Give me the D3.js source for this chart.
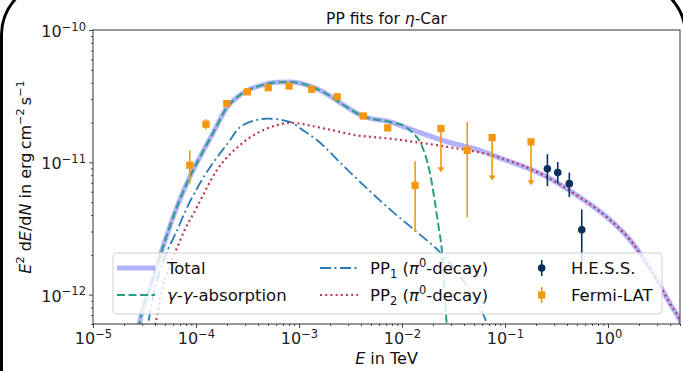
<!DOCTYPE html>
<html>
<head>
<meta charset="utf-8">
<script src="https://cdn.jsdelivr.net/npm/d3@7/dist/d3.min.js"></script>
<style>
  body { margin: 0; background: #fff; }
  svg { display: block; font-family: "DejaVu Sans", sans-serif; }
</style>
</head>
<body>
<div id="chart"></div>
<script>
// model curves, E in TeV and E^2 dN/dE in erg cm^-2 s^-1
const totalE = [2.67e-5, 2.86e-5, 3.57e-5, 4.65e-5, 6.50e-5, 8.75e-5, 1.17e-4, 1.53e-4, 2.0e-4, 2.50e-4, 3.13e-4, 4.38e-4, 6.11e-4, 8.18e-4, 1.20e-3, 1.71e-3, 2.92e-3, 4.18e-3, 7.64e-3, 1.28e-2, 2.74e-2, 5.72e-2, 8.36e-2, 0.256, 0.50, 0.977, 1.75, 2.74, 4.0, 5.0, 5.6];
const totalF = [4.5e-13, 6.35e-13, 1.13e-12, 2.15e-12, 4.56e-12, 7.83e-12, 1.21e-11, 1.78e-11, 2.61e-11, 3.10e-11, 3.48e-11, 3.83e-11, 4.02e-11, 4.04e-11, 3.83e-11, 3.41e-11, 2.61e-11, 2.23e-11, 2.02e-11, 1.75e-11, 1.43e-11, 1.23e-11, 1.10e-11, 7.74e-12, 5.62e-12, 3.85e-12, 2.43e-12, 1.44e-12, 8.55e-13, 6.35e-13, 4.9e-13];

const ggE = [2.67e-5, 2.86e-5, 3.57e-5, 4.65e-5, 6.50e-5, 8.75e-5, 1.17e-4, 1.53e-4, 2.0e-4, 2.50e-4, 3.13e-4, 4.38e-4, 6.11e-4, 8.18e-4, 1.20e-3, 1.71e-3, 2.92e-3, 4.18e-3, 7.64e-3, 1.07e-2, 1.28e-2, 1.50e-2, 1.87e-2, 2.24e-2, 2.44e-2, 2.72e-2, 2.80e-2];
const ggF = [4.5e-13, 6.35e-13, 1.13e-12, 2.15e-12, 4.56e-12, 7.83e-12, 1.21e-11, 1.78e-11, 2.61e-11, 3.10e-11, 3.48e-11, 3.83e-11, 4.02e-11, 4.04e-11, 3.83e-11, 3.41e-11, 2.61e-11, 2.23e-11, 2.02e-11, 1.87e-11, 1.66e-11, 1.42e-11, 8.26e-12, 3.45e-12, 2.15e-12, 5.9e-13, 4.5e-13];

const pp1E = [3.27e-5, 3.42e-5, 7.0e-5, 1.09e-4, 1.60e-4, 2.14e-4, 2.50e-4, 3.34e-4, 5.0e-4, 8.18e-4, 1.09e-3, 1.50e-3, 2.67e-3, 4.57e-3, 7.64e-3, 1.34e-2, 2.34e-2, 3.83e-2, 6.11e-2, 6.68e-2, 7.14e-2];
const pp1F = [4.5e-13, 5.93e-13, 3.45e-12, 6.93e-12, 1.09e-11, 1.47e-11, 1.75e-11, 2.02e-11, 2.14e-11, 2.02e-11, 1.75e-11, 1.47e-11, 9.48e-12, 6.35e-12, 4.41e-12, 3.05e-12, 2.09e-12, 1.32e-12, 7.18e-13, 5.93e-13, 4.5e-13];

const pp2E = [3.83e-5, 4.15e-5, 7.0e-5, 1.02e-4, 1.59e-4, 2.67e-4, 3.91e-4, 6.11e-4, 8.18e-4, 1.71e-3, 3.66e-3, 7.64e-3, 1.28e-2, 2.74e-2, 8.36e-2, 0.256, 0.50, 0.977, 1.75, 2.74, 4.0, 5.0, 5.6];
const pp2F = [4.5e-13, 6.73e-13, 2.56e-12, 4.58e-12, 8.69e-12, 1.35e-11, 1.66e-11, 1.91e-11, 1.99e-11, 1.81e-11, 1.60e-11, 1.51e-11, 1.43e-11, 1.31e-11, 1.10e-11, 7.74e-12, 5.62e-12, 3.85e-12, 2.43e-12, 1.44e-12, 8.55e-13, 6.35e-13, 4.9e-13];

// Fermi-LAT points (ul = upper limit, lo = arrow tip)
const fermiE = [8.7e-5, 1.25e-4, 1.99e-4, 3.15e-4, 5.03e-4, 8.0e-4, 1.33e-3, 2.35e-3, 4.21e-3, 7.27e-3, 1.34e-2, 2.39e-2, 4.3e-2, 7.5e-2, 0.179];
const fermiF = [9.5e-12, 1.94e-11, 2.78e-11, 3.41e-11, 3.66e-11, 3.77e-11, 3.56e-11, 3.13e-11, 2.24e-11, 1.82e-11, 6.7e-12, 1.80e-11, 1.23e-11, 1.54e-11, 1.43e-11];
const fermiLo = [6.9e-12, 1.78e-11, 2.70e-11, 3.32e-11, 3.57e-11, 3.68e-11, 3.47e-11, 3.04e-11, 2.15e-11, 1.74e-11, 2.97e-12, 8.4e-12, 3.85e-12, 7.3e-12, 6.7e-12];
const fermiHi = [1.23e-11, 2.12e-11, 2.86e-11, 3.50e-11, 3.75e-11, 3.86e-11, 3.65e-11, 3.22e-11, 2.33e-11, 1.90e-11, 1.02e-11, 1.80e-11, 2.02e-11, 1.54e-11, 1.43e-11];
const fermiUL = [false, false, false, false, false, false, false, false, false, false, false, true, false, true, true];

// H.E.S.S. points
const hessE = [0.258, 0.325, 0.421, 0.556];
const hessF = [8.95e-12, 8.36e-12, 6.9e-12, 3.09e-12];
const hessLo = [6.6e-12, 6.9e-12, 5.46e-12, 1.75e-12];
const hessHi = [1.15e-11, 1.005e-11, 8.36e-12, 4.4e-12];

const xTickExp = [-5, -4, -3, -2, -1, 0];
const yTickExp = [-12, -11, -10];

const W = 683, H = 371;
const margin = { top: 30, right: 3, bottom: 47, left: 93 };

const x = d3.scaleLog().domain([1e-5, 5]).range([margin.left, W - margin.right]);
const y = d3.scaleLog().domain([6e-13, 1e-10]).range([H - margin.bottom, margin.top]);

const cTotal = "#0000ff", cGG = "#2a9d84", cPP1 = "#2a7ab8", cPP2 = "#b83a4e";
const cFermi = "#f5960f", cHess = "#0b2f5e";

const svg = d3.select("#chart").append("svg")
  .attr("width", W).attr("height", H);

svg.append("defs").append("clipPath").attr("id", "plotclip")
  .append("rect")
  .attr("x", x.range()[0]).attr("y", y.range()[1])
  .attr("width", x.range()[1] - x.range()[0])
  .attr("height", y.range()[0] - y.range()[1]);

// axes: minor then major ticks
function pow10(e) { return Math.pow(10, e); }
const xMajor = xTickExp.map(pow10);
const yMajor = yTickExp.map(pow10);
const xMinor = [], yMinor = [];
for (let e = -5; e <= 0; e++) for (let m = 2; m <= 9; m++) { const v = m * pow10(e); if (v <= 5) xMinor.push(v); }
for (let e = -13; e <= -11; e++) for (let m = 2; m <= 9; m++) { const v = m * pow10(e); if (v >= 6e-13 && v <= 1e-10) yMinor.push(v); }

function sup(textSel, exp) {
  textSel.text(null);
  textSel.append("tspan").text("10");
  textSel.append("tspan").attr("dy", -6.5).style("font-size", "11.5px")
    .text(exp < 0 ? "\u2212" + Math.abs(exp) : String(exp));
}

const xAxisG = svg.append("g").attr("transform", "translate(0," + y.range()[0] + ")");
xAxisG.append("g").call(d3.axisBottom(x).tickValues(xMinor).tickSize(2).tickSizeOuter(0).tickFormat(""));
xAxisG.append("g").call(d3.axisBottom(x).tickValues(xMajor).tickSize(4).tickSizeOuter(0).tickFormat(""))
  .selectAll(".tick text")
  .attr("y", 20).attr("dy", 0)
  .style("font-size", "16px")
  .each(function(d) { sup(d3.select(this), Math.round(Math.log10(d))); });

const yAxisG = svg.append("g").attr("transform", "translate(" + x.range()[0] + ",0)");
yAxisG.append("g").call(d3.axisLeft(y).tickValues(yMinor).tickSize(2).tickSizeOuter(0).tickFormat(""));
yAxisG.append("g").call(d3.axisLeft(y).tickValues(yMajor).tickSize(4).tickSizeOuter(0).tickFormat(""))
  .selectAll(".tick text")
  .attr("x", -7).attr("dy", 6.5)
  .style("font-size", "16px")
  .each(function(d) { sup(d3.select(this), Math.round(Math.log10(d))); });

svg.selectAll(".domain").remove();
svg.selectAll(".tick line").attr("stroke", "#333").attr("stroke-width", 0.9);
svg.selectAll(".tick text").attr("fill", "#222").style("font-family", "DejaVu Sans");

// curves
const line = d3.line().x(d => x(d[0])).y(d => y(d[1])).curve(d3.curveMonotoneX);
const plot = svg.append("g").attr("clip-path", "url(#plotclip)");

plot.append("path").datum(d3.zip(totalE, totalF))
  .attr("d", line).attr("fill", "none")
  .attr("stroke", cTotal).attr("stroke-opacity", 0.3).attr("stroke-width", 5);
plot.append("path").datum(d3.zip(ggE, ggF))
  .attr("d", line).attr("fill", "none")
  .attr("stroke", cGG).attr("stroke-width", 2).attr("stroke-dasharray", "8,3.5");
plot.append("path").datum(d3.zip(pp1E, pp1F))
  .attr("d", line).attr("fill", "none")
  .attr("stroke", cPP1).attr("stroke-width", 1.8).attr("stroke-dasharray", "11,3.5,2,3.5");
plot.append("path").datum(d3.zip(pp2E, pp2F))
  .attr("d", line).attr("fill", "none")
  .attr("stroke", cPP2).attr("stroke-width", 2.2).attr("stroke-dasharray", "2,3.2");

// H.E.S.S.
const hess = d3.range(hessE.length).map(i => ({ e: hessE[i], f: hessF[i], lo: hessLo[i], hi: hessHi[i] }));
plot.selectAll(".hessbar").data(hess).join("line")
  .attr("x1", d => x(d.e)).attr("x2", d => x(d.e))
  .attr("y1", d => y(d.hi)).attr("y2", d => y(d.lo))
  .attr("stroke", cHess).attr("stroke-width", 1.6);
plot.selectAll(".hessdot").data(hess).join("circle")
  .attr("cx", d => x(d.e)).attr("cy", d => y(d.f)).attr("r", 3.8)
  .attr("fill", cHess);

// Fermi-LAT
const fermi = d3.range(fermiE.length).map(i => ({ e: fermiE[i], f: fermiF[i], lo: fermiLo[i], hi: fermiHi[i], ul: fermiUL[i] }));
plot.selectAll(".fermibar").data(fermi).join("line")
  .attr("x1", d => x(d.e)).attr("x2", d => x(d.e))
  .attr("y1", d => y(d.hi)).attr("y2", d => y(d.lo) - (d.ul ? 3 : 0))
  .attr("stroke", cFermi).attr("stroke-width", 1.6);
plot.selectAll(".fermiarrow").data(fermi.filter(d => d.ul)).join("path")
  .attr("d", d => {
    const cx = x(d.e), cy = y(d.lo);
    return "M" + (cx - 3.5) + "," + (cy - 5) + "L" + (cx + 3.5) + "," + (cy - 5) + "L" + cx + "," + cy + "Z";
  })
  .attr("fill", cFermi);
plot.selectAll(".fermisq").data(fermi).join("rect")
  .attr("x", d => x(d.e) - 3.6).attr("y", d => y(d.f) - 3.6)
  .attr("width", 7.2).attr("height", 7.2)
  .attr("fill", cFermi);

// spines
svg.append("rect")
  .attr("x", x.range()[0]).attr("y", y.range()[1])
  .attr("width", x.range()[1] - x.range()[0])
  .attr("height", y.range()[0] - y.range()[1])
  .attr("fill", "none").attr("stroke", "#333").attr("stroke-width", 1);

// rich text helper: parts [text, style] style: i = italic, sup, sub
function rich(sel, parts) {
  let shift = 0;
  parts.forEach(p => {
    const t = sel.append("tspan").text(p[0]);
    const st = p[1] || "";
    let target = 0;
    if (st.includes("sup")) { target = -7; t.style("font-size", "0.7em"); }
    if (st.includes("sub")) { target = 4; t.style("font-size", "0.7em"); }
    if (st.includes("i")) t.style("font-style", "italic");
    if (target !== shift) { t.attr("dy", target - shift); shift = target; }
  });
}

// title and labels
const cx = (x.range()[0] + x.range()[1]) / 2;
const title = svg.append("text").attr("x", cx).attr("y", 24)
  .attr("text-anchor", "middle").style("font-size", "15.5px").attr("fill", "#111");
rich(title, [["PP fits for "], ["\u03b7", "i"], ["-Car"]]);

const xl = svg.append("text").attr("x", cx).attr("y", 364)
  .attr("text-anchor", "middle").style("font-size", "16px").attr("fill", "#111");
rich(xl, [["E", "i"], [" in TeV"]]);

const yl = svg.append("text")
  .attr("transform", "translate(31," + ((y.range()[0] + y.range()[1]) / 2) + ") rotate(-90)")
  .attr("text-anchor", "middle").style("font-size", "16px").attr("fill", "#111");
rich(yl, [["E", "i"], ["2", "sup"], [" d"], ["E", "i"], ["/d"], ["N", "i"], [" in erg\u2009cm"], ["\u22122", "sup"], ["\u2009s"], ["\u22121", "sup"]]);

// legend
const lg = svg.append("g");
lg.append("rect").attr("x", 113).attr("y", 253).attr("width", 549).attr("height", 61)
  .attr("rx", 4).attr("fill", "#fff").attr("fill-opacity", 0.8)
  .attr("stroke", "#d0d0d0").attr("stroke-width", 1);

const rowY = [268, 295];
function legLine(x0, yy, color, w, dash, op) {
  lg.append("line").attr("x1", x0).attr("x2", x0 + 38).attr("y1", yy).attr("y2", yy)
    .attr("stroke", color).attr("stroke-width", w)
    .attr("stroke-dasharray", dash || null).attr("stroke-opacity", op || 1);
}
function legText(x0, yy, parts) {
  const t = lg.append("text").attr("x", x0).attr("y", yy + 6)
    .style("font-size", "16.5px").attr("fill", "#111");
  rich(t, parts);
}
legLine(117, rowY[0], cTotal, 5, null, 0.3);
legText(167, rowY[0], [["Total"]]);
legLine(117, rowY[1], cGG, 2, "8,3.5");
legText(167, rowY[1], [["\u03b3", "i"], ["-"], ["\u03b3", "i"], ["-absorption"]]);
legLine(320, rowY[0], cPP1, 1.8, "11,3.5,2,3.5");
legText(370, rowY[0], [["PP"], ["1", "sub"], [" ("], ["\u03c0", "i"], ["0", "sup"], ["-decay)"]]);
legLine(320, rowY[1], cPP2, 2.2, "2,3.2");
legText(370, rowY[1], [["PP"], ["2", "sub"], [" ("], ["\u03c0", "i"], ["0", "sup"], ["-decay)"]]);

lg.append("line").attr("x1", 541.7).attr("x2", 541.7).attr("y1", rowY[0] - 8).attr("y2", rowY[0] + 8)
  .attr("stroke", cHess).attr("stroke-width", 1.6);
lg.append("circle").attr("cx", 541.7).attr("cy", rowY[0]).attr("r", 3.8).attr("fill", cHess);
legText(571, rowY[0], [["H.E.S.S."]]);
lg.append("line").attr("x1", 541.7).attr("x2", 541.7).attr("y1", rowY[1] - 8).attr("y2", rowY[1] + 8)
  .attr("stroke", cFermi).attr("stroke-width", 1.6);
lg.append("rect").attr("x", 541.7 - 3.6).attr("y", rowY[1] - 3.6).attr("width", 7.2).attr("height", 7.2)
  .attr("fill", cFermi);
legText(571, rowY[1], [["Fermi-LAT"]]);

// outer frame of the slide
svg.append("rect").attr("x", 1.5).attr("y", -25).attr("width", 684).attr("height", 500)
  .attr("rx", 70).attr("ry", 60)
  .attr("fill", "none").attr("stroke", "#000").attr("stroke-width", 3);
</script>
</body>
</html>
